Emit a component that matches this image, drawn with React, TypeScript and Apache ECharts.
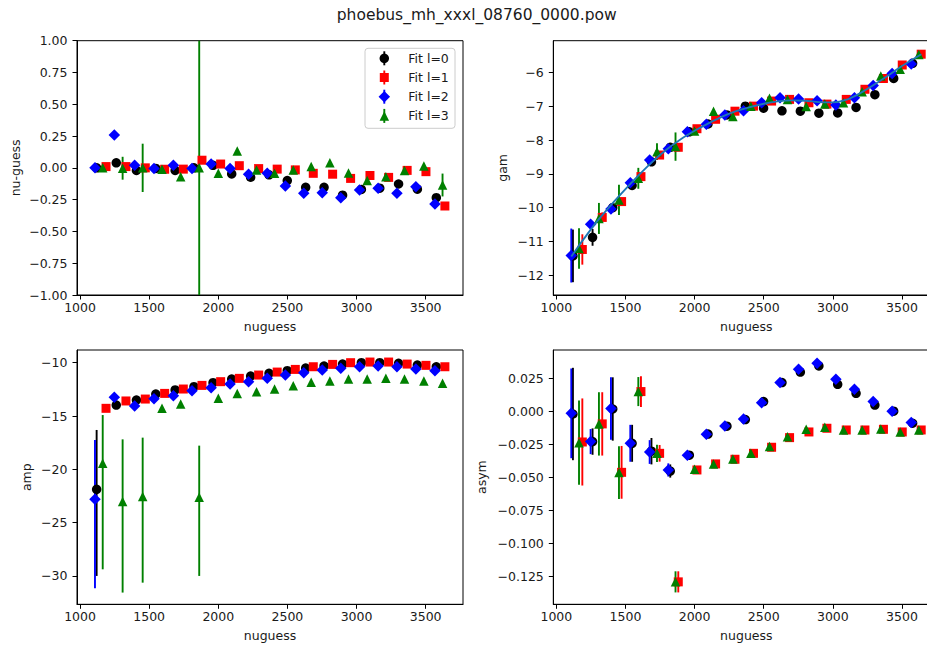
import React, { useEffect, useRef } from 'react';
import * as echarts from 'echarts';

// ---------- data ----------
const titleText = 'phoebus_mh_xxxl_08760_0000.pow';
const seriesNames = ['Fit l=0', 'Fit l=1', 'Fit l=2', 'Fit l=3'];

// nuguess positions for each degree l
const xL0 = [1120, 1262, 1408, 1548, 1688, 1824, 1962, 2097, 2234, 2367, 2499, 2632, 2765, 2899, 3035, 3168, 3304, 3440, 3577];
const xL1 = [1188, 1332, 1472, 1612, 1747, 1882, 2017, 2152, 2292, 2426, 2557, 2687, 2827, 2957, 3097, 3232, 3366, 3502, 3639];
const xL2 = [1108, 1248, 1395, 1535, 1675, 1810, 1948, 2085, 2219, 2354, 2485, 2618, 2752, 2886, 3022, 3156, 3292, 3429, 3567];
const xL3 = [1164, 1308, 1453, 1593, 1728, 1862, 2000, 2137, 2277, 2407, 2542, 2672, 2807, 2942, 3077, 3212, 3347, 3487, 3622];

const zeroErr = [0, 0, 0, 0, 0, 0, 0, 0, 0, 0, 0, 0, 0, 0, 0, 0, 0, 0, 0];

// panel 1: nu-guess
const nuL0 = [0, 0.04, -0.02, -0.005, -0.02, 0, 0.02, -0.048, -0.074, -0.055, -0.1, -0.153, -0.153, -0.215, -0.17, -0.16, -0.127, -0.168, -0.235];
const nuL1 = [0.01, 0.01, 0, -0.011, -0.01, 0.06, 0.03, 0.017, -0.006, -0.01, -0.016, -0.043, -0.05, -0.083, -0.06, -0.075, -0.02, -0.03, -0.3];
const nuL2 = [0, 0.258, 0.02, -0.006, 0.02, -0.005, 0.03, -0.006, -0.05, -0.043, -0.143, -0.2, -0.195, -0.235, -0.174, -0.16, -0.2, -0.148, -0.285];
const nuL3 = [0, -0.003, 0, -0.011, -0.07, 0, -0.043, 0.133, -0.016, -0.043, -0.016, 0.01, 0.04, -0.04, -0.1, -0.07, -0.02, 0.015, -0.135];
const nuErrL3 = [0, 0.09, 0.19, 0, 0, 5, 0, 0, 0, 0, 0, 0, 0, 0, 0, 0, 0, 0, 0.09];

// panel 2: gam
const gamL0 = [-11.43, -10.88, -10.0, -9.34, -8.64, -8.21, -7.75, -7.52, -7.25, -6.99, -7.05, -7.13, -7.14, -7.2, -7.19, -7.03, -6.65, -6.17, -5.72];
const gamL1 = [-11.24, -10.29, -9.82, -9.08, -8.44, -8.21, -7.66, -7.38, -7.14, -6.99, -6.84, -6.79, -6.89, -6.93, -6.79, -6.49, -6.17, -5.77, -5.45];
const gamL2 = [-11.42, -10.49, -10.04, -9.26, -8.59, -8.25, -7.75, -7.53, -7.25, -7.13, -6.89, -6.74, -6.78, -6.83, -6.96, -6.74, -6.38, -6.02, -5.74];
const gamL3 = [-11.21, -10.32, -9.77, -9.13, -8.34, -8.19, -7.73, -7.14, -7.3, -6.99, -6.76, -6.79, -7.0, -6.93, -6.89, -6.56, -6.1, -5.9, -5.46];
const gamErrL0 = [0.78, 0.25, 0, 0, 0, 0, 0, 0, 0, 0, 0, 0, 0, 0, 0, 0, 0, 0, 0];
const gamErrL1 = [0.45, 0.15, 0, 0, 0, 0, 0, 0, 0, 0, 0, 0, 0, 0, 0, 0, 0, 0, 0];
const gamErrL2 = [0.8, 0, 0.15, 0, 0, 0, 0, 0, 0, 0, 0, 0, 0, 0, 0, 0, 0, 0, 0];
const gamErrL3 = [0.6, 0.46, 0.45, 0.31, 0.25, 0.42, 0, 0, 0, 0, 0, 0, 0, 0, 0, 0, 0, 0, 0];
const gamFitX = [1108, 1154, 1200, 1300, 1400, 1500, 1600, 1700, 1800, 1900, 2000, 2100, 2200, 2300, 2400, 2500, 2600, 2700, 2800, 2900, 3000, 3100, 3200, 3300, 3400, 3500, 3640];
const gamFitY = [-11.45, -11.18, -10.92, -10.38, -9.9, -9.45, -9.02, -8.62, -8.27, -7.97, -7.72, -7.5, -7.3, -7.14, -7.02, -6.92, -6.85, -6.82, -6.83, -6.87, -6.88, -6.8, -6.6, -6.35, -6.08, -5.8, -5.45];

// panel 3: amp
const ampL0 = [-21.88, -13.97, -13.5, -12.94, -12.56, -12.25, -11.88, -11.53, -11.25, -11.0, -10.75, -10.5, -10.31, -10.13, -10.0, -10.0, -10.06, -10.22, -10.38];
const ampL1 = [-14.28, -13.59, -13.41, -12.88, -12.47, -12.13, -11.78, -11.47, -11.16, -10.88, -10.63, -10.38, -10.16, -10.0, -9.94, -9.94, -10.13, -10.25, -10.38];
const ampL2 = [-22.81, -13.25, -14.06, -13.38, -13.09, -12.63, -12.34, -12.0, -11.78, -11.47, -11.16, -10.94, -10.69, -10.53, -10.38, -10.31, -10.38, -10.59, -10.75];
const ampL3 = [-19.44, -23.03, -22.56, -14.28, -13.88, -22.63, -13.34, -12.88, -12.72, -12.47, -12.16, -11.84, -11.72, -11.53, -11.53, -11.47, -11.53, -11.72, -11.94];
const ampErrDnL0 = [8.12, 0, 0, 0, 0, 0, 0, 0, 0, 0, 0, 0, 0, 0, 0, 0, 0, 0, 0];
const ampErrUpL0 = [5.57, 0, 0, 0, 0, 0, 0, 0, 0, 0, 0, 0, 0, 0, 0, 0, 0, 0, 0];
const ampErrDnL2 = [8.35, 0, 0, 0, 0, 0, 0, 0, 0, 0, 0, 0, 0, 0, 0, 0, 0, 0, 0];
const ampErrUpL2 = [5.56, 0, 0, 0, 0, 0, 0, 0, 0, 0, 0, 0, 0, 0, 0, 0, 0, 0, 0];
const ampErrDnL3 = [9.94, 8.53, 8.07, 0, 0, 7.37, 0, 0, 0, 0, 0, 0, 0, 0, 0, 0, 0, 0, 0];
const ampErrUpL3 = [4.53, 5.84, 5.53, 0, 0, 4.85, 0, 0, 0, 0, 0, 0, 0, 0, 0, 0, 0, 0, 0];

// panel 4: asym
const asymL0 = [-0.0018, -0.0227, 0.002, -0.024, -0.03, -0.045, -0.033, -0.017, -0.011, -0.006, 0.0076, 0.022, 0.03, 0.0346, 0.0207, 0.0139, 0.005, 0.0003, -0.0088];
const asymL1 = [-0.023, -0.0093, -0.046, 0.0152, -0.0316, -0.129, -0.0442, -0.0396, -0.0361, -0.0316, -0.027, -0.0197, -0.0154, -0.0126, -0.0139, -0.0139, -0.0134, -0.0154, -0.0139];
const asymL2 = [-0.0013, -0.0227, 0.0023, -0.024, -0.0306, -0.0442, -0.0331, -0.0172, -0.0109, -0.0056, 0.0068, 0.022, 0.0321, 0.0366, 0.0245, 0.0169, 0.0076, 0.0003, -0.0083];
const asymL3 = [-0.0235, -0.0093, -0.0462, 0.0152, -0.0316, -0.129, -0.0437, -0.0396, -0.0359, -0.0316, -0.0265, -0.019, -0.0134, -0.0119, -0.0139, -0.0139, -0.0131, -0.0154, -0.0139];
const asymErrL0 = [0.035, 0.01, 0.024, 0.014, 0.01, 0.005, 0, 0, 0, 0, 0, 0, 0, 0, 0, 0, 0, 0, 0];
const asymErrL1 = [0.033, 0.024, 0.02, 0.0117, 0.0063, 0.008, 0, 0, 0, 0, 0, 0, 0, 0, 0, 0, 0, 0, 0];
const asymErrL2 = [0.034, 0.0095, 0.0237, 0.014, 0.009, 0.005, 0, 0, 0, 0, 0, 0, 0, 0, 0, 0, 0, 0, 0];
const asymErrL3 = [0.032, 0.024, 0.02, 0.011, 0.0065, 0.008, 0, 0, 0, 0, 0, 0, 0, 0, 0, 0, 0, 0, 0];

// tick values
const xTicks = [1000, 1500, 2000, 2500, 3000, 3500];
const nuTicks = [-1, -0.75, -0.5, -0.25, 0, 0.25, 0.5, 0.75, 1];
const gamTicks = [-12, -11, -10, -9, -8, -7, -6];
const ampTicks = [-30, -25, -20, -15, -10];
const asymTicks = [-0.125, -0.1, -0.075, -0.05, -0.025, 0, 0.025];

// ---------- styling ----------
const FONT = 'DejaVu Sans';
const TXT = '#1a1a1a';
const FS = 12.5;
const colors = ['#000000', '#ff0000', '#0000ff', '#008000'];
const symbols = ['circle', 'rect', 'diamond', 'triangle'];
const symbolSizes = [9.5, 9, 11.5, 9.5];

const MINUS = '\u2212';
const fmt = (d: number) => (v: number) => (v < -1e-12 ? MINUS : '') + Math.abs(v).toFixed(d);

const xs = [xL0, xL1, xL2, xL3];

const panels = [
  {
    name: 'nu-guess', min: -1, max: 1, ticks: nuTicks, fmt: fmt(2), nameGap: 55,
    vals: [nuL0, nuL1, nuL2, nuL3],
    dn: [zeroErr, zeroErr, zeroErr, nuErrL3],
    up: [zeroErr, zeroErr, zeroErr, nuErrL3],
  },
  {
    name: 'gam', min: -12.59, max: -5.05, ticks: gamTicks, fmt: fmt(0), nameGap: 44,
    vals: [gamL0, gamL1, gamL2, gamL3],
    dn: [gamErrL0, gamErrL1, gamErrL2, gamErrL3],
    up: [gamErrL0, gamErrL1, gamErrL2, gamErrL3],
  },
  {
    name: 'amp', min: -32.66, max: -8.81, ticks: ampTicks, fmt: fmt(0), nameGap: 44,
    vals: [ampL0, ampL1, ampL2, ampL3],
    dn: [ampErrDnL0, zeroErr, ampErrDnL2, ampErrDnL3],
    up: [ampErrUpL0, zeroErr, ampErrUpL2, ampErrUpL3],
  },
  {
    name: 'asym', min: -0.146, max: 0.0467, ticks: asymTicks, fmt: fmt(3), nameGap: 65,
    vals: [asymL0, asymL1, asymL2, asymL3],
    dn: [asymErrL0, asymErrL1, asymErrL2, asymErrL3],
    up: [asymErrL0, asymErrL1, asymErrL2, asymErrL3],
  },
];

const gridBoxes = [
  { left: 77, top: 40.7, width: 386, height: 254.3 },
  { left: 553.3, top: 40.7, width: 386, height: 254.3 },
  { left: 77, top: 350, width: 386, height: 254.3 },
  { left: 553.3, top: 350, width: 386, height: 254.3 },
];

// legend box geometry (matplotlib-style legend drawn as graphics)
const LEG = { x: 365, y: 48.3, w: 90, h: 80, row0: 58.3, rowGap: 19.2, markX: 384.3, textX: 408.3 };

function legendMarker(l: number, cx: number, cy: number) {
  const color = colors[l];
  const items: any[] = [
    { type: 'line', shape: { x1: cx, y1: cy - 7, x2: cx, y2: cy + 7 }, style: { stroke: color, lineWidth: 1.9 } },
  ];
  if (l === 0) items.push({ type: 'circle', shape: { cx, cy, r: 4.75 }, style: { fill: color } });
  if (l === 1) items.push({ type: 'rect', shape: { x: cx - 4.5, y: cy - 4.5, width: 9, height: 9 }, style: { fill: color } });
  if (l === 2) items.push({ type: 'polygon', shape: { points: [[cx, cy - 5.75], [cx + 5.75, cy], [cx, cy + 5.75], [cx - 5.75, cy]] }, style: { fill: color } });
  if (l === 3) items.push({ type: 'polygon', shape: { points: [[cx, cy - 4.75], [cx + 4.75, cy + 4.75], [cx - 4.75, cy + 4.75]] }, style: { fill: color } });
  return items;
}

function buildOption() {
  const textStyle = { fontFamily: FONT, fontSize: FS, color: TXT };
  const grid = gridBoxes.map((g) => ({
    ...g, show: true, borderColor: '#000', borderWidth: 1, backgroundColor: 'transparent',
    containLabel: false, outerBoundsMode: 'none',
  }));
  const xAxis = gridBoxes.map((_, i) => ({
    type: 'value', gridIndex: i, min: 978, max: 3770,
    name: 'nuguess', nameLocation: 'middle', nameGap: 25, nameTextStyle: textStyle,
    axisLine: { show: true, onZero: false, lineStyle: { color: '#000', width: 1 } },
    axisTick: { show: true, length: 4.5, customValues: xTicks, lineStyle: { color: '#000', width: 1 } },
    axisLabel: { ...textStyle, margin: 6, customValues: xTicks, formatter: (v: number) => String(v) },
    splitLine: { show: false },
  }));
  const yAxis = panels.map((p, i) => ({
    type: 'value', gridIndex: i, min: p.min, max: p.max,
    name: p.name, nameLocation: 'middle', nameGap: p.nameGap, nameRotate: 90, nameTextStyle: textStyle,
    axisLine: { show: true, onZero: false, lineStyle: { color: '#000', width: 1 } },
    axisTick: { show: true, length: 4.5, customValues: p.ticks, lineStyle: { color: '#000', width: 1 } },
    axisLabel: { ...textStyle, margin: 9.5, customValues: p.ticks, formatter: p.fmt },
    splitLine: { show: false },
  }));

  const series: any[] = [];
  panels.forEach((p, pi) => {
    if (pi === 1) {
      series.push({
        type: 'line', name: 'fit', xAxisIndex: 1, yAxisIndex: 1, silent: true,
        data: gamFitX.map((x, i) => [x, gamFitY[i]]),
        showSymbol: false, symbol: 'none', smooth: 0.3,
        lineStyle: { color: '#1f77b4', width: 1.9 },
      });
    }
    for (let l = 0; l < 4; l++) {
      const x = xs[l];
      const y = p.vals[l];
      const dn = p.dn[l];
      const up = p.up[l];
      const color = colors[l];
      const errData = x
        .map((xv, i) => [xv, y[i], y[i] - dn[i], y[i] + up[i]])
        .filter((d) => d[3] - d[2] > 0);
      series.push({
        type: 'custom', name: 'err' + pi + '-' + l, xAxisIndex: pi, yAxisIndex: pi, silent: true,
        data: errData,
        renderItem: (params: any, api: any) => {
          const xv = api.value(0);
          const lo = api.value(2);
          const hi = api.value(3);
          const a = api.coord([xv, lo]);
          const b = api.coord([xv, hi]);
          const cs = params.coordSys;
          const top = cs.y;
          const bot = cs.y + cs.height;
          const y1 = Math.max(top, Math.min(bot, a[1]));
          const y2 = Math.max(top, Math.min(bot, b[1]));
          return {
            type: 'line',
            shape: { x1: a[0], y1, x2: b[0], y2 },
            style: { stroke: color, lineWidth: 1.9 },
          };
        },
      });
      series.push({
        type: 'scatter', name: seriesNames[l], xAxisIndex: pi, yAxisIndex: pi, silent: true,
        data: x.map((xv, i) => [xv, y[i]]),
        symbol: symbols[l], symbolSize: symbolSizes[l],
        itemStyle: { color, opacity: 1 },
      });
    }
  });

  const legendChildren: any[] = [
    {
      type: 'rect',
      shape: { x: LEG.x, y: LEG.y, width: LEG.w, height: LEG.h, r: 3 },
      style: { fill: 'rgba(255,255,255,0.8)', stroke: '#cccccc', lineWidth: 1 },
    },
  ];
  seriesNames.forEach((n, l) => {
    const cy = LEG.row0 + l * LEG.rowGap;
    legendChildren.push(...legendMarker(l, LEG.markX, cy));
    legendChildren.push({
      type: 'text', x: LEG.textX, y: cy,
      style: { text: n, fontFamily: FONT, fontSize: FS, fill: TXT, align: 'left', verticalAlign: 'middle' },
    });
  });

  return {
    animation: false,
    backgroundColor: '#ffffff',
    grid, xAxis, yAxis, series,
    graphic: [
      {
        type: 'text', x: 476.7, y: 15, silent: true,
        style: {
          text: titleText, fontFamily: FONT, fontSize: 15.5, fill: TXT,
          align: 'center', verticalAlign: 'middle',
        },
      },
      { type: 'group', silent: true, z: 100, children: legendChildren },
    ],
  };
}

export default function App() {
  const ref = useRef<HTMLDivElement>(null);
  useEffect(() => {
    if (!ref.current) return;
    const chart = echarts.init(ref.current, undefined, { renderer: 'svg' });
    chart.setOption(buildOption() as any);
    return () => chart.dispose();
  }, []);
  return (
    <div
      ref={ref}
      style={{ position: 'fixed', left: 0, top: 0, width: 927, height: 646, background: '#fff' }}
    />
  );
}
